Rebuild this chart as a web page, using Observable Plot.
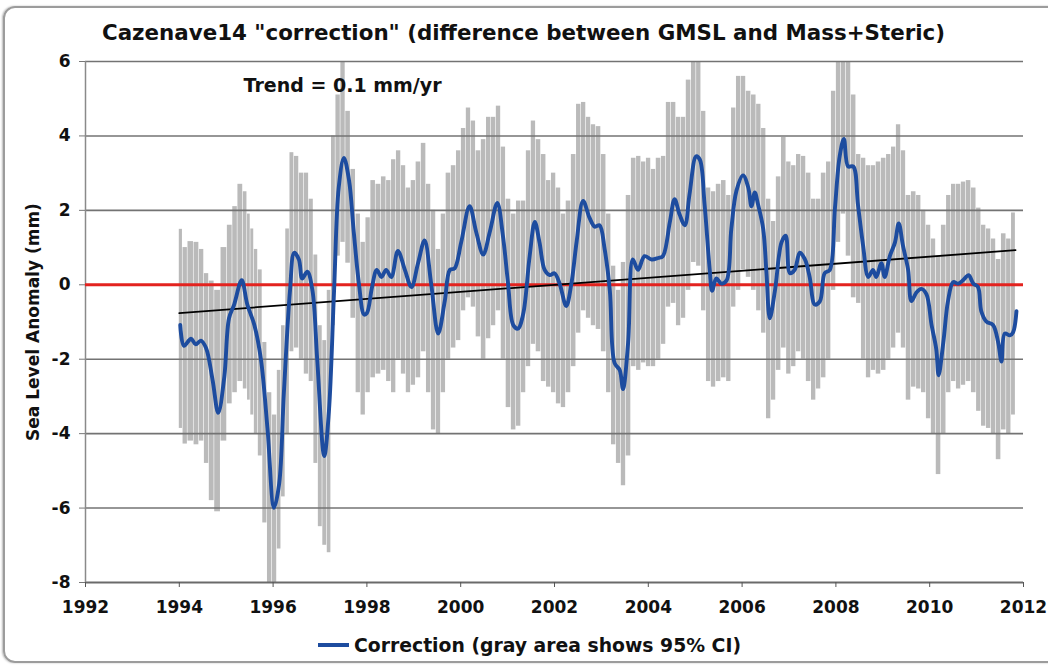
<!DOCTYPE html>
<html>
<head>
<meta charset="utf-8">
<script src="https://cdn.jsdelivr.net/npm/d3@7"></script>
<script src="https://cdn.jsdelivr.net/npm/@observablehq/plot@0.6"></script>
<style>
  html, body { margin: 0; padding: 0; background: #fff; }
  #wrap { position: relative; width: 1048px; height: 666px; overflow: hidden; font-family: "DejaVu Sans", Verdana, sans-serif; }
  #frame { position: absolute; left: 3px; top: 6px; width: 1060px; height: 657px; border: 2px solid #9c9c9c; border-radius: 12px; box-sizing: border-box; box-shadow: -1px 0 2px #bbb; }
  #chart { position: absolute; left: 0; top: 0; }
  .overlay { position: absolute; left: 0; top: 0; pointer-events: none; }
</style>
</head>
<body>
<div id="wrap">
  <div id="frame"></div>
  <div id="chart"></div>
  <svg class="overlay" width="1048" height="666">
    <text id="title" x="102" y="40" font-family="DejaVu Sans, Verdana, sans-serif" font-weight="bold" font-size="21" fill="#111" textLength="843" lengthAdjust="spacingAndGlyphs"></text>
    <line id="legLine" x1="318" x2="349" y1="645" y2="645" stroke="#1d4c9f" stroke-width="4"></line>
    <text id="legText" x="354" y="652" font-family="DejaVu Sans, Verdana, sans-serif" font-weight="bold" font-size="19" fill="#111" textLength="387" lengthAdjust="spacingAndGlyphs"></text>
  </svg>
</div>
<script>
// ---- data ----
const titleText = 'Cazenave14 "correction" (difference between GMSL and Mass+Steric)';
const legendText = "Correction (gray area shows 95% CI)";
const yLabelText = "Sea Level Anomaly (mm)";
const trendNote = "Trend = 0.1 mm/yr";

const xTicks = [1992, 1994, 1996, 1998, 2000, 2002, 2004, 2006, 2008, 2010, 2012];
const yTicks = [6, 4, 2, 0, -2, -4, -6, -8];
const gridValues = [6, 4, 2, -2, -4, -6];

// blue "Correction" curve
const corrYear = [
  1994.02,1994.10,1994.25,1994.35,1994.46,1994.57,1994.71,1994.83,1994.96,1995.06,
  1995.17,1995.33,1995.45,1995.60,1995.74,1995.88,1996.02,1996.13,1996.23,1996.36,
  1996.45,1996.55,1996.62,1996.73,1996.84,1996.94,1997.09,1997.19,1997.30,1997.40,
  1997.51,1997.62,1997.72,1997.83,1997.94,1998.00,1998.11,1998.21,1998.31,1998.41,
  1998.52,1998.66,1998.81,1998.95,1999.09,1999.23,1999.37,1999.52,1999.66,1999.77,
  1999.87,2000.01,2000.19,2000.33,2000.48,2000.62,2000.78,2000.90,2001.01,2001.12,
  2001.22,2001.33,2001.47,2001.58,2001.68,2001.79,2001.90,2002.00,2002.11,2002.25,
  2002.36,2002.47,2002.61,2002.75,2002.86,2002.96,2003.07,2003.18,2003.28,2003.39,
  2003.46,2003.57,2003.67,2003.78,2003.92,2004.07,2004.21,2004.31,2004.46,2004.56,
  2004.67,2004.78,2004.88,2005.02,2005.10,2005.20,2005.31,2005.36,2005.45,2005.56,
  2005.67,2005.77,2005.88,2006.02,2006.13,2006.20,2006.27,2006.34,2006.45,2006.52,
  2006.59,2006.70,2006.84,2006.93,2007.02,2007.12,2007.23,2007.34,2007.44,2007.55,
  2007.66,2007.76,2007.87,2007.98,2008.08,2008.17,2008.26,2008.37,2008.47,2008.58,
  2008.69,2008.79,2008.86,2008.97,2009.04,2009.15,2009.26,2009.34,2009.43,2009.54,
  2009.61,2009.72,2009.82,2009.93,2010.04,2010.14,2010.19,2010.29,2010.39,2010.50,
  2010.61,2010.71,2010.83,2010.93,2011.03,2011.10,2011.21,2011.35,2011.46,2011.53,
  2011.60,2011.71,2011.78,2011.85
];
const corrValue = [
  -1.08,-1.64,-1.45,-1.60,-1.50,-1.70,-2.56,-3.44,-2.47,-0.90,
  -0.53,0.12,-0.53,-1.08,-2.00,-3.86,-5.99,-5.34,-2.90,-0.16,
  0.86,0.68,0.17,0.35,-0.16,-2.00,-4.60,-3.40,-0.16,2.62,
  3.41,2.80,1.42,0.03,-0.80,-0.76,-0.06,0.40,0.21,0.40,
  0.21,0.91,0.40,-0.06,0.58,1.19,0.03,-1.31,-0.44,0.40,
  0.44,1.14,2.11,1.42,0.81,1.42,2.20,1.32,0.03,-1.08,
  -1.18,-0.80,0.77,1.69,1.14,0.40,0.26,0.31,0.03,-0.57,
  0.03,1.14,2.25,1.79,1.56,1.60,0.95,-0.16,-2.10,-2.29,
  -2.80,-1.55,0.68,0.40,0.77,0.68,0.72,0.77,1.69,2.30,
  1.88,1.60,2.44,3.45,3.36,2.16,0.40,-0.16,0.17,0.03,
  0.12,1.50,2.53,2.94,2.62,2.11,2.48,2.16,1.50,0.31,
  -0.90,-0.16,1.14,1.32,0.31,0.40,0.86,0.68,0.21,-0.53,
  -0.44,0.31,0.40,2.06,3.45,3.92,3.18,3.18,2.16,1.05,
  0.21,0.40,0.21,0.58,0.21,0.77,1.14,1.65,1.05,0.40,
  -0.44,-0.20,-0.11,-0.25,-1.08,-1.73,-2.43,-1.55,-0.44,0.07,
  0.03,0.12,0.26,0.03,-0.06,-0.71,-0.99,-1.08,-1.55,-2.06,
  -1.31,-1.36,-1.27,-0.71
];

// gray 95% CI bars
const ciYear = [
  1994.04,1994.12,1994.25,1994.38,1994.48,1994.59,1994.69,1994.82,1994.96,1995.09,
  1995.19,1995.31,1995.42,1995.49,1995.56,1995.64,1995.73,1995.83,1995.93,1996.04,
  1996.14,1996.22,1996.32,1996.40,1996.51,1996.61,1996.72,1996.82,1996.92,1997.01,
  1997.11,1997.20,1997.29,1997.39,1997.50,1997.60,1997.72,1997.82,1997.93,1998.03,
  1998.14,
  1998.25,1998.37,1998.47,1998.58,1998.68,1998.79,1998.89,1999.00,1999.10,1999.22,
  1999.32,1999.43,1999.53,1999.64,1999.74,1999.86,1999.96,2000.07,2000.17,2000.28,
  2000.38,2000.50,2000.60,2000.71,2000.81,2000.92,2001.02,2001.14,2001.24,2001.35,
  2001.45,2001.56,2001.66,2001.78,2001.88,2001.99,2002.09,2002.20,2002.30,2002.42,
  2002.52,2002.63,2002.73,2002.84,2002.94,2003.06,2003.16,2003.27,2003.37,2003.48,
  2003.58,2003.70,2003.80,2003.91,2004.01,2004.12,2004.22,2004.34,2004.43,2004.55,
  2004.65,2004.76,2004.86,2004.98,
  2005.08,2005.19,2005.29,2005.40,2005.50,2005.62,2005.72,2005.83,2005.93,2006.04,
  2006.14,2006.26,2006.36,2006.47,2006.57,2006.68,2006.78,2006.90,2007.00,2007.11,
  2007.21,2007.32,2007.42,2007.54,2007.63,2007.75,2007.85,2007.96,2008.06,2008.17,
  2008.27,2008.39,2008.49,2008.60,2008.70,2008.81,2008.91,2009.03,2009.13,2009.24,
  2009.34,2009.45,2009.55,2009.67,2009.77,2009.88,2009.98,2010.09,2010.19,2010.31,
  2010.41,2010.52,2010.62,2010.73,2010.83,2010.95,2011.05,2011.16,2011.26,2011.37,
  2011.47,2011.59,2011.69,2011.80
];
const ciHi = [
  1.49,1.00,1.16,1.14,0.95,0.30,0.10,-0.15,1.00,1.60,
  2.10,2.70,2.50,1.90,1.50,0.95,0.40,-1.55,-2.90,-3.50,
  -2.30,-1.10,1.50,3.55,3.45,3.00,3.00,2.30,0.80,-1.10,
  -1.50,-0.15,4.00,5.10,6.00,4.66,3.10,1.90,1.14,1.80,
  2.80,
  2.70,2.90,2.80,3.36,3.60,3.20,2.60,2.80,3.30,3.80,
  2.70,2.00,0.95,1.90,3.00,3.20,3.60,4.20,4.75,4.40,
  3.60,3.90,4.50,4.50,4.80,3.70,2.30,1.90,2.25,2.25,
  3.60,4.40,3.90,3.50,2.80,3.00,2.60,1.90,2.25,3.50,
  4.85,4.90,4.50,4.30,4.25,3.50,1.90,0.50,-0.15,0.60,
  2.40,3.40,3.45,3.30,3.40,3.10,3.40,3.45,4.90,4.90,
  4.50,4.50,5.50,6.00,
  6.00,4.66,2.60,2.50,2.70,2.80,2.40,4.75,5.60,5.60,
  5.20,5.10,4.85,4.20,2.30,1.70,2.90,3.96,3.30,3.20,
  3.50,3.45,3.00,2.30,2.30,3.00,3.30,5.20,6.00,6.00,
  6.00,5.10,3.50,3.40,3.20,3.20,3.30,3.40,3.50,3.70,
  4.30,3.60,2.40,2.50,2.40,2.00,1.60,1.23,0.77,1.60,
  2.40,2.70,2.70,2.76,2.80,2.60,2.06,1.60,1.50,1.23,
  0.68,1.37,1.23,1.93
];
const ciLo = [
  -3.86,-4.28,-4.20,-4.30,-4.20,-4.80,-5.80,-6.10,-4.20,-3.20,
  -2.90,-2.60,-2.80,-3.10,-3.50,-4.00,-4.60,-6.40,-8.00,-8.00,
  -7.10,-5.70,-4.00,-1.80,-1.70,-2.00,-2.40,-2.60,-4.80,-6.50,
  -7.00,-7.20,-1.10,0.77,1.14,0.58,-0.90,-2.90,-3.50,-2.90,
  -2.50,
  -2.40,-2.30,-2.60,-2.90,-2.00,-2.40,-2.90,-2.70,-2.50,-1.80,
  -2.90,-3.90,-4.00,-2.90,-2.00,-1.70,-1.50,-0.70,-0.35,-0.60,
  -1.40,-2.00,-1.45,-1.10,-0.70,-2.00,-3.30,-3.90,-3.80,-2.90,
  -2.20,-1.60,-1.80,-2.60,-2.75,-2.90,-3.20,-3.30,-2.90,-2.20,
  -1.30,-0.70,-0.90,-1.10,-1.20,-1.80,-2.90,-4.30,-4.80,-5.40,
  -4.60,-2.20,-2.30,-2.10,-2.20,-2.20,-2.00,-1.60,-0.60,-0.50,
  -1.10,-0.90,-0.15,0.60,
  0.50,-0.70,-2.60,-2.75,-2.60,-2.50,-2.60,-0.60,-0.15,0.40,
  0.20,-0.15,-0.70,-1.30,-3.60,-3.10,-2.30,-1.70,-2.40,-2.20,
  -1.80,-2.00,-2.60,-3.10,-2.80,-2.50,-2.00,-0.15,1.14,1.90,
  0.77,-0.35,-0.50,-2.00,-2.50,-2.30,-2.40,-2.30,-2.00,-1.70,
  -1.30,-1.70,-3.10,-2.75,-2.80,-2.90,-3.60,-4.00,-5.10,-4.00,
  -2.90,-2.60,-2.80,-2.70,-2.60,-2.90,-3.40,-3.80,-3.86,-4.00,
  -4.70,-3.90,-4.00,-3.50
];

// linear trend (0.1 mm/yr) end points
const trendYear = [1994.0, 2011.83];
const trendValue = [-0.76, 0.93];

// annotation
const noteYear = [1995.37];
const noteValue = [5.35];

// ---- build tables from the arrays ----
const series = corrYear.map((x, i) => ({year: x, value: corrValue[i]}));
const n = ciYear.length;
const bars = ciYear.map((x, i) => ({
  x1: i > 0 ? (ciYear[i - 1] + x) / 2 : x - 0.04,
  x2: i < n - 1 ? (x + ciYear[i + 1]) / 2 : x + 0.04,
  hi: Math.min(ciHi[i], 6),
  lo: Math.max(ciLo[i], -8)
}));
const trend = trendYear.map((x, i) => ({year: x, value: trendValue[i]}));
const notes = noteYear.map((x, i) => ({x, y: noteValue[i], text: trendNote}));

const chart = Plot.plot({
  width: 1048,
  height: 666,
  marginTop: 61,
  marginBottom: 84,
  marginLeft: 85,
  marginRight: 25,
  x: {domain: [1992, 2012]},
  y: {domain: [-8, 6]},
  style: {fontFamily: "DejaVu Sans, Verdana, sans-serif", fontWeight: "bold", fontSize: "17px", color: "#111", background: "transparent", overflow: "visible"},
  marks: [
    Plot.rectY(bars, {x1: "x1", x2: "x2", y1: "lo", y2: "hi", fill: "#bababa", insetRight: 0.6}),
    Plot.ruleY(gridValues, {stroke: "#737373", strokeWidth: 1.6}),
    Plot.ruleY([-8], {stroke: "#6a6a6a", strokeWidth: 2}),
    Plot.ruleX([1992], {stroke: "#8a8a8a", strokeWidth: 1.5}),
    Plot.ruleY([0], {stroke: "#e3231f", strokeWidth: 3}),
    Plot.line(trend, {x: "year", y: "value", stroke: "#000", strokeWidth: 1.8}),
    Plot.line(series, {x: "year", y: "value", stroke: "#1d4c9f", strokeWidth: 3.9, curve: "catmull-rom"}),
    Plot.text(notes, {x: "x", y: "y", text: "text", textAnchor: "start", fontSize: 19, fontWeight: "bold", fill: "#111"}),
    Plot.axisY(yTicks, {tickSize: 6, tickPadding: 9, label: null, fontSize: 17, tickFormat: d => String(d), stroke: "#777"}),
    Plot.axisX(xTicks, {tickSize: 5, tickPadding: 13, label: null, fontSize: 17, tickFormat: d => String(d), stroke: "#555"}),
    Plot.text([yLabelText], {frameAnchor: "left", rotate: -90, dx: -52, dy: 0, text: d => d, fontSize: 17, fontWeight: "bold", textAnchor: "middle", fill: "#111"})
  ]
});
document.getElementById("chart").appendChild(chart);
document.getElementById("title").textContent = titleText;
document.getElementById("legText").textContent = legendText;
</script>
</body>
</html>
